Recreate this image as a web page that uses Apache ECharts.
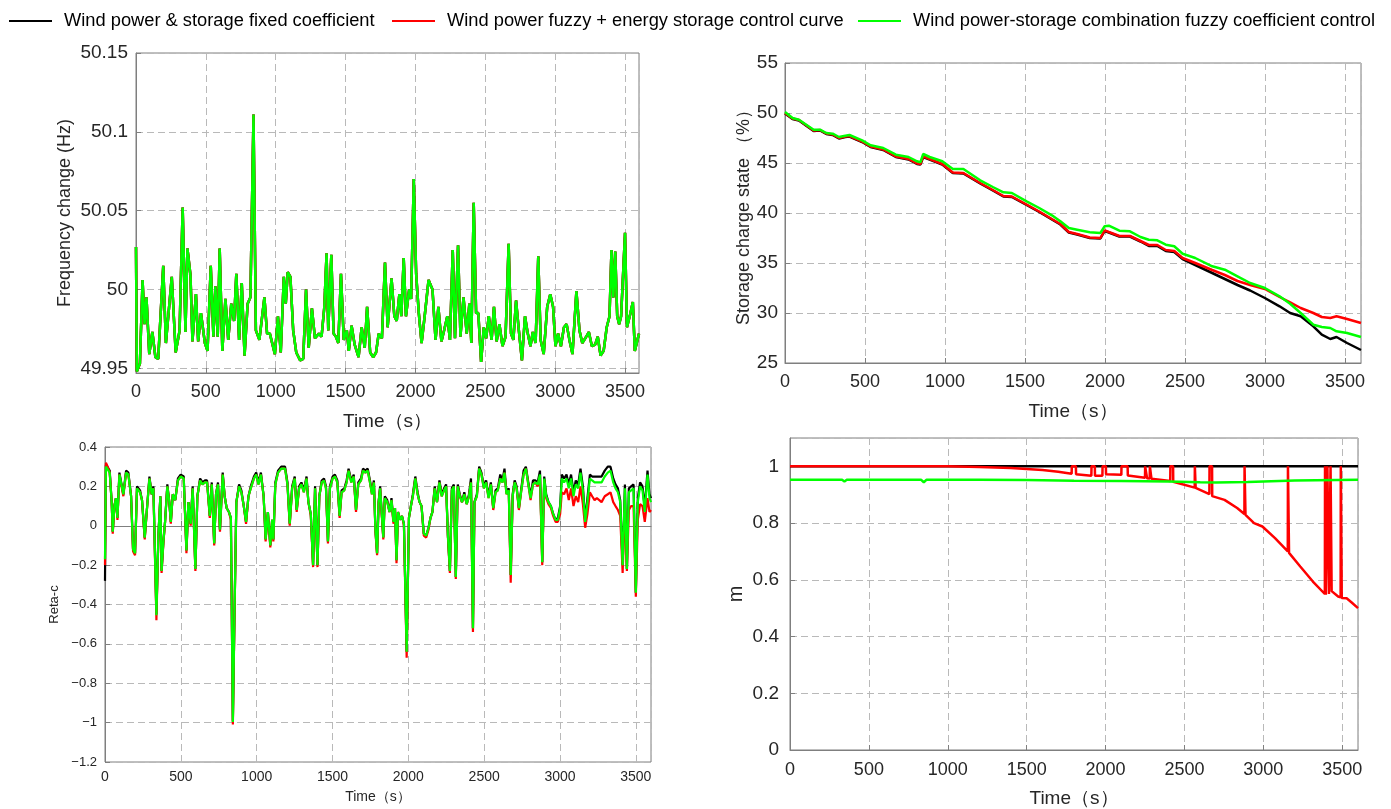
<!DOCTYPE html>
<html>
<head>
<meta charset="utf-8">
<script src="https://cdn.jsdelivr.net/npm/echarts@6/dist/echarts.min.js"></script>
<style>
html,body{margin:0;padding:0;background:#fff;}
#main{width:1391px;height:809px;}
</style>
</head>
<body>
<div id="main"></div>
<script>
// ---------- legend / series names ----------
const seriesNames = [
  'Wind power & storage fixed coefficient',
  'Wind power fuzzy + energy storage control curve',
  'Wind power-storage combination fuzzy coefficient control'
];
const seriesColors = ['#000000', '#ff0000', '#00ff00'];

// ---------- panel 1 : frequency (Hz) ----------
const freqT = [
  0, 6, 28, 47, 61, 75, 95, 117, 139, 159,
  195, 214, 256, 284, 312, 334, 354, 368, 390, 404,
  429, 445, 465, 493, 512, 535, 554, 568, 585, 599,
  618, 640, 660, 682, 702, 718, 738, 757, 777, 799,
  819, 841, 858, 883, 919, 938, 958, 994, 1016, 1036,
  1058, 1072, 1086, 1105, 1125, 1147, 1175, 1197, 1217, 1236,
  1259, 1281, 1309, 1328, 1348, 1364, 1376, 1398, 1414, 1431,
  1448, 1467, 1487, 1509, 1523, 1543, 1565, 1593, 1615, 1637,
  1654, 1676, 1698, 1718, 1737, 1760, 1782, 1801, 1829, 1849,
  1866, 1885, 1899, 1916, 1932, 1955, 1969, 1988, 2005, 2024,
  2044, 2066, 2094, 2122, 2144, 2164, 2186, 2205, 2228, 2247,
  2267, 2283, 2305, 2322, 2344, 2367, 2386, 2400, 2417, 2434,
  2450, 2470, 2489, 2506, 2525, 2545, 2562, 2581, 2601, 2623,
  2645, 2667, 2684, 2701, 2720, 2740, 2762, 2784, 2804, 2823,
  2840, 2860, 2879, 2896, 2918, 2943, 2965, 2985, 3002, 3021,
  3041, 3063, 3082, 3102, 3124, 3152, 3174, 3194, 3222, 3241,
  3263, 3286, 3305, 3325, 3347, 3369, 3389, 3403, 3416, 3430,
  3444, 3458, 3472, 3486, 3500, 3514, 3536, 3556, 3570, 3600
];
const freqV = [
  50.027, 49.948, 49.953, 50.006, 49.978, 49.995, 49.959, 49.973, 49.957, 49.956,
  50.015, 49.966, 50.008, 49.960, 49.974, 50.052, 49.973, 50.026, 50.009, 49.967,
  49.997, 49.967, 49.985, 49.966, 49.961, 50.015, 49.970, 50.002, 49.970, 50.026,
  49.961, 49.994, 49.968, 49.991, 49.980, 50.010, 49.968, 50.004, 49.958, 49.991,
  49.995, 50.111, 49.974, 49.968, 49.995, 49.972, 49.972, 49.959, 49.983, 49.960,
  50.008, 49.991, 50.011, 50.008, 49.974, 49.960, 49.955, 49.956, 50.000, 49.963,
  49.988, 49.969, 49.972, 49.970, 49.989, 50.023, 49.974, 50.022, 49.972, 49.970,
  49.966, 50.010, 49.968, 49.974, 49.961, 49.977, 49.965, 49.957, 49.976, 49.963,
  49.989, 49.960, 49.957, 49.960, 49.972, 49.969, 50.017, 49.976, 50.007, 49.983,
  49.980, 49.997, 49.983, 50.020, 49.983, 50.000, 49.994, 50.070, 50.010, 49.985,
  49.966, 49.983, 50.006, 50.000, 49.968, 49.989, 49.967, 49.974, 49.983, 49.968,
  50.025, 49.969, 50.028, 49.970, 49.995, 49.972, 49.991, 49.966, 50.055, 49.985,
  49.985, 49.954, 49.976, 49.969, 49.983, 49.968, 49.989, 49.967, 49.978, 49.964,
  49.970, 50.029, 49.972, 49.968, 49.993, 49.974, 49.955, 49.983, 49.972, 49.964,
  49.973, 49.966, 50.021, 49.968, 49.959, 49.989, 49.997, 49.989, 49.964, 49.972,
  49.964, 49.976, 49.978, 49.968, 49.959, 49.999, 49.974, 49.966, 49.970, 49.973,
  49.964, 49.965, 49.970, 49.958, 49.961, 49.976, 49.983, 50.025, 49.995, 50.024,
  49.983, 49.978, 49.983, 49.983, 50.036, 49.976, 49.984, 49.992, 49.961, 49.972
];
const freqTicks = [49.95, 50, 50.05, 50.1, 50.15];

// ---------- panel 2 : storage state of charge (%) ----------
const socT = [0, 47, 87, 179, 219, 258, 298, 337, 377, 403,
  482, 535, 614, 693, 772, 825, 846, 864, 904, 983,
  1049, 1115, 1220, 1299, 1365, 1418, 1510, 1589, 1668, 1721,
  1774, 1826, 1905, 1971, 1998, 2024, 2090, 2156, 2222, 2274,
  2327, 2380, 2433, 2485, 2564, 2670, 2749, 2828, 2907, 2999,
  3091, 3157, 3223, 3302, 3355, 3408, 3447, 3513, 3600];
const socBlack = [49.95, 49.4, 49.25, 48.2, 48.25, 47.9, 47.8, 47.45, 47.6, 47.65,
  47.1, 46.6, 46.3, 45.6, 45.35, 44.9, 44.85, 45.6, 45.35, 44.85,
  44.0, 43.95, 42.95, 42.25, 41.65, 41.6, 40.8, 40.1, 39.35, 38.85,
  38.05, 37.85, 37.5, 37.45, 38.2, 38.05, 37.65, 37.65, 37.15, 36.7,
  36.7, 36.2, 36.1, 35.4, 34.8, 34.0, 33.4, 32.8, 32.25, 31.5,
  30.67, 30.0, 29.67, 28.67, 27.83, 27.4, 27.6, 27.0, 26.3];
const socRed = [50.0, 49.45, 49.3, 48.25, 48.3, 47.95, 47.85, 47.5, 47.65, 47.7,
  47.15, 46.65, 46.35, 45.65, 45.4, 44.95, 44.9, 45.67, 45.4, 44.9,
  44.05, 44.0, 43.0, 42.3, 41.7, 41.65, 40.85, 40.15, 39.4, 38.9,
  38.1, 37.9, 37.55, 37.5, 38.27, 38.1, 37.7, 37.7, 37.2, 36.8,
  36.8, 36.3, 36.2, 35.5, 35.0, 34.3, 33.8, 33.2, 32.8, 32.4,
  31.6, 31.07, 30.5, 30.0, 29.6, 29.5, 29.67, 29.4, 29.0];
const socGreen = [50.1, 49.5, 49.33, 48.33, 48.33, 48.0, 47.93, 47.6, 47.73, 47.8,
  47.27, 46.77, 46.5, 45.83, 45.6, 45.17, 45.07, 45.9, 45.6, 45.17,
  44.4, 44.4, 43.27, 42.6, 42.07, 42.0, 41.17, 40.5, 39.77, 39.17,
  38.5, 38.33, 38.07, 38.0, 38.67, 38.73, 38.23, 38.17, 37.6, 37.33,
  37.27, 36.83, 36.67, 35.93, 35.5, 34.67, 34.33, 33.67, 33.0, 32.5,
  31.67, 30.93, 30.0, 28.83, 28.6, 28.5, 28.17, 28.0, 27.6];

// ---------- panel 3 : Reta-c ----------
const retaT = [
  0, 6, 18, 31, 44, 51, 62, 72, 82, 95,
  108, 121, 139, 154, 172, 185, 198, 211, 231, 244,
  262, 275, 293, 308, 319, 339, 352, 365, 373, 385,
  396, 411, 424, 434, 447, 463, 481, 499, 519, 537,
  550, 565, 578, 596, 609, 627, 643, 658, 673, 691,
  704, 720, 732, 745, 758, 776, 789, 802, 817, 830,
  843, 853, 866, 884, 899, 915, 930, 946, 961, 982,
  997, 1012, 1028, 1046, 1059, 1074, 1090, 1102, 1110, 1123,
  1141, 1162, 1187, 1203, 1218, 1234, 1251, 1264, 1280, 1295,
  1311, 1329, 1341, 1357, 1372, 1385, 1401, 1413, 1429, 1444,
  1457, 1470, 1483, 1501, 1516, 1532, 1547, 1560, 1578, 1593,
  1606, 1624, 1640, 1655, 1670, 1688, 1701, 1717, 1732, 1747,
  1760, 1773, 1783, 1794, 1804, 1814, 1825, 1835, 1845, 1861,
  1876, 1889, 1902, 1912, 1922, 1932, 1945, 1958, 1971, 1989,
  2004, 2017, 2030, 2046, 2061, 2074, 2087, 2102, 2118, 2133,
  2146, 2159, 2174, 2189, 2205, 2220, 2236, 2249, 2261, 2274,
  2287, 2300, 2313, 2326, 2339, 2354, 2369, 2385, 2400, 2413,
  2426, 2436, 2452, 2467, 2482, 2498, 2513, 2529, 2544, 2560,
  2575, 2590, 2606, 2621, 2634, 2647, 2662, 2675, 2688, 2701,
  2714, 2729, 2745, 2760, 2775, 2791, 2806, 2822, 2837, 2853,
  2868, 2883, 2896, 2909, 2924, 2940, 2955, 2971, 2986, 3001,
  3012, 3027, 3043, 3058, 3073, 3089, 3104, 3120, 3135, 3151,
  3166, 3181, 3197, 3212, 3228, 3243, 3259, 3274, 3295, 3315,
  3333, 3351, 3366, 3382, 3397, 3413, 3428, 3441, 3454, 3469,
  3485, 3500, 3513, 3528, 3544, 3559, 3577, 3590, 3600
];
const retaBlack = [
  -0.28, 0.31, 0.30, 0.28, 0.12, -0.03, 0.10, 0.14, 0.04, 0.27,
  0.26, 0.16, 0.28, 0.27, 0.15, -0.12, -0.14, 0.20, 0.18, 0.13,
  -0.06, 0.07, 0.25, 0.16, 0.20, -0.45, -0.05, 0.15, -0.23, -0.08,
  0.02, 0.21, 0.12, 0.02, 0.16, 0.13, 0.24, 0.26, 0.25, -0.125,
  0.12, 0.01, 0.20, -0.22, 0.15, 0.24, 0.22, 0.23, 0.23, 0.05,
  0.22, -0.09, 0.16, 0.22, -0.02, 0.27, 0.15, 0.09, 0.07, 0.04,
  -0.99, -0.49, 0.12, 0.21, 0.18, 0.10, 0.02, 0.15, 0.20, 0.25,
  0.27, 0.22, 0.27, 0.15, -0.07, 0.07, -0.10, 0.03, -0.07, 0.22,
  0.28, 0.30, 0.30, 0.22, 0.01, 0.20, 0.25, 0.08, 0.20, 0.22,
  0.18, 0.25, 0.12, 0.06, -0.20, 0.20, -0.20, 0.15, 0.23, 0.24,
  0.20, -0.08, 0.20, 0.25, 0.26, 0.23, 0.05, 0.18, 0.19, 0.23,
  0.29, 0.23, 0.26, 0.08, 0.22, 0.24, 0.29, 0.28, 0.29, 0.23,
  0.17, 0.23, -0.02, -0.14, 0.12, 0.20, 0.06, -0.06, 0.15, 0.13,
  0.07, 0.14, 0.02, 0.09, -0.175, 0.07, 0.03, 0.05, 0.01, -0.64,
  0.04, 0.10, 0.16, 0.25, 0.17, 0.12, 0.10, -0.04, -0.05, -0.01,
  0.04, 0.07, 0.20, 0.12, 0.23, 0.16, 0.19, 0.21, -0.05, -0.23,
  0.19, 0.21, -0.26, 0.21, 0.16, 0.12, 0.17, 0.11, 0.16, 0.24,
  -0.52, 0.12, 0.16, 0.30, 0.27, 0.20, 0.23, 0.15, 0.22, 0.09,
  0.18, 0.19, 0.26, 0.23, 0.29, 0.17, 0.19, -0.25, 0.16, 0.23,
  0.20, 0.09, 0.19, 0.28, 0.30, 0.22, 0.15, 0.23, 0.23, 0.22,
  0.28, -0.185, 0.25, 0.16, 0.12, 0.10, 0.06, 0.03, 0.04, 0.10,
  0.26, 0.24, 0.26, 0.21, 0.26, 0.17, 0.23, 0.21, 0.29, 0.20,
  0.03, 0.14, 0.26, 0.25, 0.25, 0.25, 0.25, 0.25, 0.28, 0.30,
  0.30, 0.24, 0.21, 0.19, 0.13, -0.20, 0.21, -0.22, 0.19, 0.20,
  0.21, -0.34, 0.14, 0.22, 0.20, 0.09, 0.28, 0.16, 0.14
];
const retaRed = [
  -0.20, 0.32, 0.30, 0.27, 0.12, -0.04, 0.10, 0.14, 0.03, 0.26,
  0.25, 0.15, 0.27, 0.26, 0.15, -0.13, -0.15, 0.19, 0.17, 0.13,
  -0.07, 0.07, 0.24, 0.16, 0.19, -0.48, -0.06, 0.15, -0.24, -0.09,
  0.02, 0.20, 0.12, 0.01, 0.16, 0.13, 0.23, 0.25, 0.24, -0.14,
  0.12, 0.00, 0.19, -0.23, 0.15, 0.23, 0.21, 0.22, 0.22, 0.04,
  0.21, -0.10, 0.16, 0.21, -0.03, 0.26, 0.15, 0.09, 0.07, 0.03,
  -1.01, -0.50, 0.12, 0.20, 0.17, 0.10, 0.01, 0.15, 0.19, 0.24,
  0.26, 0.21, 0.26, 0.15, -0.08, 0.07, -0.11, 0.03, -0.08, 0.21,
  0.27, 0.29, 0.29, 0.21, 0.00, 0.19, 0.24, 0.07, 0.19, 0.21,
  0.17, 0.24, 0.12, 0.05, -0.21, 0.19, -0.21, 0.15, 0.22, 0.23,
  0.19, -0.09, 0.19, 0.24, 0.25, 0.22, 0.04, 0.17, 0.18, 0.22,
  0.28, 0.22, 0.25, 0.07, 0.21, 0.23, 0.28, 0.27, 0.28, 0.22,
  0.16, 0.22, -0.03, -0.15, 0.12, 0.19, 0.05, -0.07, 0.14, 0.12,
  0.07, 0.13, 0.01, 0.09, -0.19, 0.07, 0.03, 0.05, 0.00, -0.67,
  0.04, 0.10, 0.15, 0.24, 0.16, 0.12, 0.10, -0.05, -0.06, -0.02,
  0.04, 0.07, 0.19, 0.12, 0.22, 0.15, 0.18, 0.20, -0.06, -0.24,
  0.18, 0.20, -0.27, 0.20, 0.15, 0.12, 0.16, 0.11, 0.15, 0.22,
  -0.54, 0.12, 0.15, 0.29, 0.26, 0.19, 0.22, 0.14, 0.21, 0.08,
  0.17, 0.18, 0.24, 0.22, 0.27, 0.16, 0.18, -0.29, 0.15, 0.22,
  0.19, 0.08, 0.18, 0.26, 0.29, 0.21, 0.13, 0.21, 0.22, 0.20,
  0.25, -0.20, 0.23, 0.14, 0.11, 0.09, 0.05, 0.02, 0.02, 0.06,
  0.17, 0.16, 0.19, 0.13, 0.19, 0.10, 0.15, 0.12, 0.20, 0.11,
  -0.01, 0.06, 0.17, 0.15, 0.13, 0.14, 0.13, 0.12, 0.15, 0.16,
  0.17, 0.12, 0.10, 0.08, 0.05, -0.24, 0.10, -0.23, 0.08, 0.10,
  0.10, -0.36, 0.03, 0.11, 0.10, 0.02, 0.14, 0.07, 0.08
];
const retaGreen = [
  -0.17, 0.30, 0.30, 0.27, 0.12, -0.03, 0.10, 0.14, 0.04, 0.26,
  0.25, 0.16, 0.27, 0.26, 0.15, -0.12, -0.14, 0.19, 0.17, 0.13,
  -0.06, 0.07, 0.24, 0.16, 0.19, -0.455, -0.05, 0.15, -0.23, -0.08,
  0.02, 0.20, 0.12, 0.02, 0.16, 0.13, 0.23, 0.25, 0.24, -0.125,
  0.12, 0.01, 0.19, -0.22, 0.15, 0.23, 0.21, 0.22, 0.22, 0.05,
  0.21, -0.09, 0.16, 0.21, -0.02, 0.26, 0.15, 0.09, 0.07, 0.04,
  -0.997, -0.49, 0.12, 0.20, 0.17, 0.10, 0.02, 0.15, 0.19, 0.24,
  0.26, 0.21, 0.26, 0.15, -0.07, 0.07, -0.10, 0.03, -0.07, 0.21,
  0.27, 0.29, 0.29, 0.21, 0.01, 0.19, 0.24, 0.08, 0.19, 0.21,
  0.17, 0.24, 0.12, 0.06, -0.20, 0.19, -0.20, 0.15, 0.22, 0.23,
  0.19, -0.08, 0.19, 0.24, 0.25, 0.22, 0.05, 0.17, 0.18, 0.22,
  0.28, 0.22, 0.25, 0.08, 0.21, 0.23, 0.28, 0.27, 0.28, 0.22,
  0.16, 0.22, -0.02, -0.14, 0.12, 0.19, 0.06, -0.06, 0.14, 0.12,
  0.07, 0.13, 0.02, 0.09, -0.175, 0.07, 0.03, 0.05, 0.01, -0.64,
  0.04, 0.10, 0.15, 0.24, 0.16, 0.12, 0.10, -0.04, -0.05, -0.01,
  0.04, 0.07, 0.19, 0.12, 0.22, 0.15, 0.18, 0.20, -0.05, -0.23,
  0.18, 0.20, -0.26, 0.20, 0.15, 0.12, 0.16, 0.11, 0.15, 0.22,
  -0.52, 0.12, 0.15, 0.29, 0.26, 0.19, 0.22, 0.14, 0.21, 0.09,
  0.17, 0.18, 0.24, 0.22, 0.27, 0.16, 0.18, -0.25, 0.15, 0.22,
  0.19, 0.09, 0.18, 0.26, 0.29, 0.21, 0.14, 0.21, 0.22, 0.21,
  0.26, -0.185, 0.24, 0.15, 0.12, 0.10, 0.06, 0.03, 0.03, 0.09,
  0.24, 0.22, 0.24, 0.19, 0.24, 0.15, 0.21, 0.19, 0.27, 0.18,
  0.02, 0.12, 0.24, 0.23, 0.22, 0.22, 0.22, 0.22, 0.25, 0.27,
  0.28, 0.22, 0.19, 0.17, 0.12, -0.20, 0.19, -0.22, 0.17, 0.18,
  0.19, -0.34, 0.12, 0.20, 0.18, 0.07, 0.26, 0.14, 0.12
];

// ---------- panel 4 : m ----------
const mBlackT = [0, 3600];
const mBlackV = [1, 1];
const mRedT = [0, 1000, 1200, 1400, 1600, 1700,
  1785, 1786, 1812, 1813, 1910, 1911, 1932, 1933,
  1980, 1981, 2002, 2003, 2100, 2101, 2140, 2141,
  2250, 2251, 2262, 2263, 2280, 2281, 2290, 2291,
  2410, 2411, 2428, 2429, 2565, 2566, 2570, 2571,
  2658, 2659, 2675, 2676, 2754, 2834,
  2880, 2881, 2886, 2887, 2941, 2994, 3074,
  3155, 3156, 3162, 3163, 3234, 3314,
  3390, 3391, 3395, 3396, 3405, 3406, 3415, 3416,
  3425, 3426, 3432, 3433, 3474,
  3490, 3491, 3496, 3497, 3528, 3560, 3600];
const mRedV = [1, 1, 0.998, 0.994, 0.987, 0.981,
  0.974, 1, 1, 0.972, 0.967, 1, 1, 0.967,
  0.967, 1, 1, 0.972, 0.970, 1, 1, 0.968,
  0.960, 1, 1, 0.958, 0.957, 1, 1, 0.956,
  0.948, 1, 1, 0.946, 0.925, 1, 1, 0.924,
  0.902, 1, 1, 0.895, 0.882, 0.853,
  0.832, 1, 1, 0.829, 0.800, 0.788, 0.747,
  0.700, 1, 1, 0.695, 0.647, 0.594,
  0.550, 1, 1, 0.547, 0.545, 1, 1, 0.550,
  0.555, 1, 1, 0.560, 0.541,
  0.538, 1, 1, 0.536, 0.535, 0.520, 0.500];
const mGreenT = [0, 330, 345, 360, 830, 848, 866, 1200, 1500, 1800, 2100, 2400, 2600, 2700, 2900, 3200, 3600];
const mGreenV = [0.953, 0.953, 0.947, 0.953, 0.953, 0.944, 0.953, 0.953, 0.952, 0.949, 0.948, 0.947, 0.944, 0.943, 0.945, 0.950, 0.953];

// ---------- build chart ----------
const FN = "'Liberation Sans',Arial,sans-serif";
const TXT = '#262626';
const AX = '#7f7f7f';
const GRIDC = '#b9b9b9';

const zip = (ts, vs) => ts.map((t, i) => [t, vs[i]]);
const plain = v => String(v);

const grids = [
  {left: 136, top: 53, width: 503, height: 320},
  {left: 785, top: 63, width: 576, height: 300},
  {left: 105, top: 447, width: 546, height: 315},
  {left: 790, top: 438, width: 568, height: 312}
].map(g => Object.assign({show: true, borderColor: AX, borderWidth: 1, backgroundColor: 'transparent'}, g));

function xAx(gi, fs, margin, nameGap, nfs) {
  return {
    type: 'value', gridIndex: gi, min: 0, max: 3600, interval: 500,
    name: 'Time（s）', nameLocation: 'middle', nameGap: nameGap,
    nameTextStyle: {fontFamily: FN, fontSize: nfs, color: TXT},
    axisLine: {show: true, lineStyle: {color: AX}},
    axisTick: {show: true, inside: true, length: 5, lineStyle: {color: AX}},
    axisLabel: {fontFamily: FN, fontSize: fs, color: TXT, margin: margin, showMaxLabel: false, formatter: plain},
    splitLine: {show: true, lineStyle: {color: GRIDC, type: [7, 4], width: 1}}
  };
}
function yAx(gi, o) {
  return Object.assign({
    type: 'value', gridIndex: gi, nameLocation: 'middle',
    axisLine: {show: true, lineStyle: {color: AX}},
    axisTick: {show: true, inside: true, length: 5, lineStyle: {color: AX}},
    splitLine: {show: true, lineStyle: {color: GRIDC, type: [7, 4], width: 1}}
  }, o);
}

const xAxes = [xAx(0, 18, 10, 39, 19), xAx(1, 18, 10, 39, 19), xAx(2, 14, 8, 28, 14), xAx(3, 18, 11, 39, 19)];
const yAxes = [
  yAx(0, {min: 49.947, max: 50.15, name: 'Frequency change (Hz)', nameGap: 62,
    nameTextStyle: {fontFamily: FN, fontSize: 18, color: TXT},
    axisTick: {show: true, inside: true, length: 5, lineStyle: {color: AX}, customValues: freqTicks},
    axisLabel: {fontFamily: FN, fontSize: 19, color: TXT, margin: 8, customValues: freqTicks, formatter: plain}}),
  yAx(1, {min: 25, max: 55, interval: 5, name: 'Storage charge state （%）', nameGap: 32,
    nameTextStyle: {fontFamily: FN, fontSize: 18, color: TXT},
    axisLabel: {fontFamily: FN, fontSize: 19, color: TXT, margin: 7, formatter: plain}}),
  yAx(2, {min: -1.2, max: 0.4, interval: 0.2, name: 'Reta-c', nameGap: 44,
    nameTextStyle: {fontFamily: FN, fontSize: 13, color: TXT},
    axisLabel: {fontFamily: FN, fontSize: 13, color: TXT, margin: 8,
      formatter: v => (v < 0 ? '−' : '') + (+Math.abs(v).toFixed(1))}}),
  yAx(3, {min: 0, max: 1.1, interval: 0.2, name: 'm', nameGap: 44,
    nameTextStyle: {fontFamily: FN, fontSize: 20, color: TXT},
    axisLabel: {fontFamily: FN, fontSize: 19, color: TXT, margin: 11, showMaxLabel: false,
      formatter: v => String(+v.toFixed(1))}})
];

const panelData = [
  [zip(freqT, freqV), zip(freqT, freqV), zip(freqT, freqV)],
  [zip(socT, socBlack), zip(socT, socRed), zip(socT, socGreen)],
  [zip(retaT, retaBlack), zip(retaT, retaRed), zip(retaT, retaGreen)],
  [zip(mBlackT, mBlackV), zip(mRedT, mRedV), zip(mGreenT, mGreenV)]
];
const widths = [2.5, 2.5, 2.2, 2.5];

const series = [];
panelData.forEach((sets, gi) => {
  sets.forEach((d, k) => {
    series.push({
      name: seriesNames[k], type: 'line', xAxisIndex: gi, yAxisIndex: gi,
      data: d, showSymbol: false, symbol: 'none', clip: true,
      lineStyle: {color: seriesColors[k], width: widths[gi]},
      itemStyle: {color: seriesColors[k]},
      emphasis: {disabled: true}, z: 2 + k
    });
  });
});

const legendLefts = [9, 392, 858];
const legends = seriesNames.map((n, k) => ({
  data: [n], left: legendLefts[k], top: 12, orient: 'horizontal', padding: 0,
  icon: 'rect', itemWidth: 43, itemHeight: 2,
  selectedMode: false,
  textStyle: {fontFamily: FN, fontSize: 18.3, color: '#000', padding: [0, 0, 0, 7]}
}));

const chart = echarts.init(document.getElementById('main'), null, {renderer: 'canvas'});
chart.setOption({
  backgroundColor: '#ffffff',
  animation: false,
  legend: legends,
  grid: grids,
  xAxis: xAxes,
  yAxis: yAxes,
  series: series
});
</script>
</body>
</html>
